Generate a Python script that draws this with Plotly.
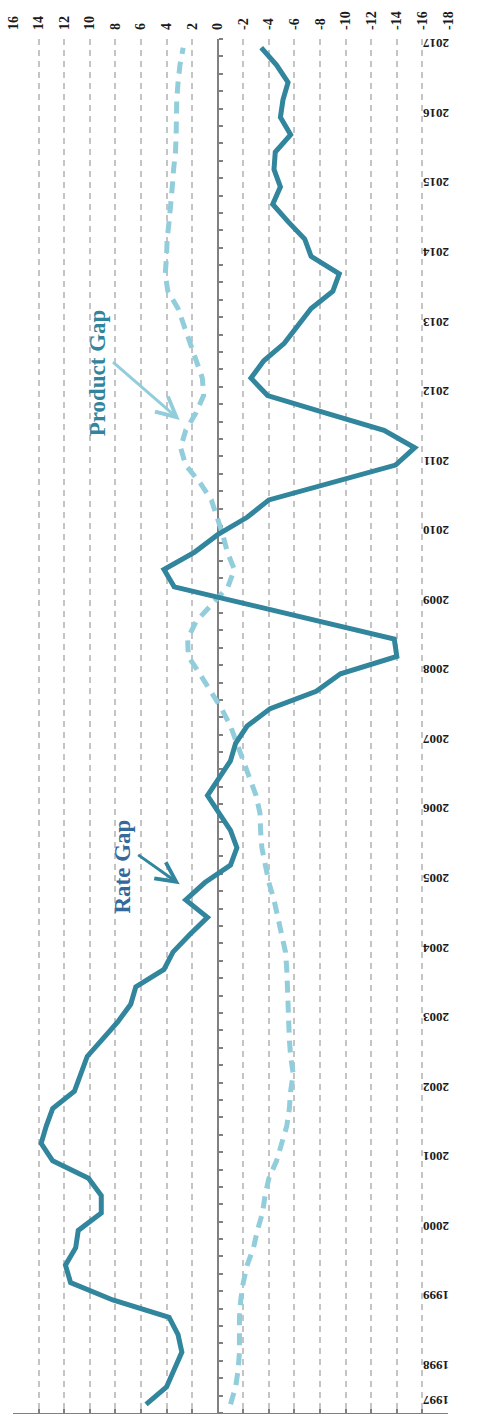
import plotly.graph_objects as go

# Quarterly periods: 1997 Q3 .. 2017 Q1
quarters = []
for yr in range(1997, 2018):
    for q in range(1, 5):
        if (yr == 1997 and q < 3) or (yr == 2017 and q > 1):
            continue
        quarters.append(f"{yr}Q{q}")

year_labels = ["1997"] + [str(y) for y in range(1998, 2018)]
year_label_periods = ["1997Q3"] + [f"{y}Q1" for y in range(1998, 2018)]

rate_gap = [
    5.6, 4.0, 3.4, 2.8, 3.1, 3.8, 8.2, 11.5, 11.9, 11.1,
    10.9, 9.1, 9.1, 10.1, 12.9, 13.8, 13.4, 12.9, 11.2, 10.7,
    10.2, 9.0, 7.8, 6.8, 6.4, 4.2, 3.5, 2.2, 0.8, 2.5,
    1.0, -1.0, -1.5, -1.0, -0.1, 0.8, -0.1, -1.0, -1.4, -2.3,
    -4.1, -7.7, -9.6, -14.0, -13.8, -8.0, -2.1, 3.4, 4.2, 1.8,
    0.0, -2.3, -4.0, -8.8, -13.9, -15.4, -13.0, -8.4, -3.9, -2.6,
    -3.6, -5.2, -6.3, -7.3, -9.0, -9.5, -7.3, -6.8, -5.5, -4.3,
    -4.9, -4.4, -4.5, -5.7, -4.9, -5.1, -5.5, -4.6, -3.4,
]

product_gap = [
    -1.0, -1.4, -1.6, -1.7, -1.7, -1.7, -1.8, -2.0, -2.3, -2.8,
    -3.1, -3.5, -3.7, -4.0, -4.6, -5.0, -5.4, -5.6, -5.7, -5.9,
    -5.7, -5.6, -5.55, -5.5, -5.5, -5.4, -5.3, -5.0, -4.75, -4.4,
    -4.0, -3.7, -3.45, -3.35, -3.3, -3.0, -2.5, -2.0, -1.5, -1.0,
    -0.3, 0.5, 1.4, 2.3, 2.35, 1.7, 0.45, -0.8, -1.3, -0.75,
    -0.4, 0.1, 0.5, 1.4, 2.5, 2.9, 2.5, 1.7, 1.1, 1.2,
    1.7, 2.1, 2.6, 3.1, 3.9, 4.1, 4.0, 3.95, 3.8, 3.65,
    3.55, 3.45, 3.3, 3.25, 3.25, 3.2, 3.1, 2.95, 2.7,
]

value_ticks = list(range(16, -19, -2))

idx = list(range(len(quarters)))
year_tickvals = [quarters.index(p) for p in year_label_periods]

RATE_COLOR = "#31859c"
PRODUCT_COLOR = "#92cddc"
GRID = "#c4c4c4"
AXIS = "#808080"
FONT = "Liberation Serif"

fig = go.Figure()
fig.add_trace(go.Scatter(
    x=product_gap, y=idx, mode="lines", name="Product Gap",
    line=dict(color=PRODUCT_COLOR, width=5, dash="12px,8px"),
))
fig.add_trace(go.Scatter(
    x=rate_gap, y=idx, mode="lines", name="Rate Gap",
    line=dict(color=RATE_COLOR, width=5),
))

xr = [16, -18]
yr_ = [-0.5, len(quarters) - 0.5]

fig.update_layout(
    width=488, height=1414,
    margin=dict(l=13, r=40, t=39, b=1, autoexpand=False),
    paper_bgcolor="white", plot_bgcolor="white",
    showlegend=False,
    font=dict(family=FONT, color="#1a1a1a"),
    xaxis=dict(
        range=xr, side="top", tickvals=value_ticks,
        ticktext=[str(v) for v in value_ticks],
        tickangle=-90, tickfont=dict(size=14, weight="bold", family=FONT),
        ticklabelstandoff=8,
        showgrid=True, gridcolor=GRID, gridwidth=1.5, griddash="6px,5px",
        zeroline=False, showline=False, ticks="", layer="below traces",
    ),
    xaxis2=dict(
        range=xr, overlaying="x", side="bottom", anchor="y",
        tickvals=value_ticks, showticklabels=False,
        showline=True, linecolor=AXIS, linewidth=2,
        ticks="inside", ticklen=4, tickcolor=AXIS, tickwidth=1.5,
        showgrid=False, zeroline=False, layer="below traces",
    ),
    yaxis=dict(
        range=yr_, side="right", tickvals=year_tickvals, ticktext=year_labels,
        tickangle=180, tickfont=dict(size=13, weight="bold", family=FONT),
        showgrid=False, zeroline=False, showline=False, ticks="",
        layer="below traces",
    ),
    yaxis2=dict(
        range=yr_, overlaying="y", anchor="free", side="right",
        position=16 / 34, showticklabels=False,
        showline=True, linecolor=AXIS, linewidth=2,
        ticks="outside", ticklen=4, tickcolor=AXIS, tickwidth=1.5,
        tickmode="linear", tick0=-0.5, dtick=1,
        showgrid=False, zeroline=False, layer="below traces",
    ),
)

# invisible trace on secondary axes so they render
fig.add_trace(go.Scatter(x=[0], y=[0], xaxis="x2", yaxis="y2",
                         mode="markers", marker=dict(opacity=0),
                         hoverinfo="skip", showlegend=False))

fig.add_annotation(
    x=9.4, y=59.3, xref="x", yref="y", text="Product Gap", showarrow=False,
    textangle=-90, font=dict(size=23, color=RATE_COLOR, family=FONT, weight="bold"),
)
fig.add_annotation(
    x=2.97, y=56.6, xref="x", yref="y", text="", showarrow=True,
    ax=8.3, ay=60.0, axref="x", ayref="y",
    arrowhead=5, arrowsize=1.3, arrowwidth=3, arrowcolor=PRODUCT_COLOR,
)
fig.add_annotation(
    x=7.43, y=30.9, xref="x", yref="y", text="Rate Gap", showarrow=False,
    textangle=-90, font=dict(size=23, color="#35689b", family=FONT, weight="bold"),
)
fig.add_annotation(
    x=2.97, y=29.9, xref="x", yref="y", text="", showarrow=True,
    ax=6.33, ay=31.65, axref="x", ayref="y",
    arrowhead=5, arrowsize=1.3, arrowwidth=3, arrowcolor=RATE_COLOR,
)

fig.write_html("out.html", config={"displayModeBar": False},
               post_script="document.body.style.margin='0';")
